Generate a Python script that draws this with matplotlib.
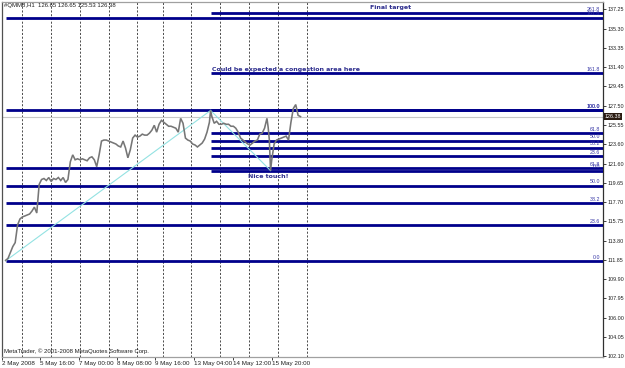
import matplotlib
matplotlib.use("Agg")
import matplotlib.pyplot as plt
import matplotlib.transforms as mtransforms

# ---------------- data ----------------
bar_index = [0, 2, 4, 6, 8, 10, 12, 14, 16, 18, 20, 22, 24, 26, 28, 30, 32, 34, 36, 38,
             40, 42, 44, 46, 48, 50, 52, 54, 56, 58, 60, 62, 64, 66, 68, 70, 72, 74, 76, 78,
             80, 82, 84, 86, 88, 90, 92, 94, 96, 98, 100, 102, 104, 106, 108, 110, 112, 114, 116, 118,
             120, 122, 124, 126, 128, 130, 132, 134, 136, 138, 140, 142, 144, 146, 148, 150, 152, 154, 156, 158,
             160, 162, 164, 166, 168, 170, 171, 172, 174, 176, 178, 180, 182, 184, 186, 188, 190, 192, 194, 196,
             198, 200, 202, 204, 206, 208, 210, 212, 214, 216, 218, 219, 220, 221, 222, 224, 226, 228, 230, 232,
             234, 236, 238, 240, 242, 244, 246]
price = [111.8, 112.0, 112.6, 113.2, 113.6, 115.4, 116.0, 116.2, 116.3, 116.4, 116.5, 116.8, 117.2, 116.6, 119.5, 120.0, 120.1, 119.9, 120.2, 119.8,
         120.1, 120.0, 120.2, 119.9, 120.2, 119.7, 120.0, 121.8, 122.5, 122.0, 122.1, 122.0, 122.1, 122.0, 121.9, 122.2, 122.3, 122.0, 121.3, 122.5,
         123.9, 124.0, 124.0, 123.9, 123.8, 123.7, 123.6, 123.4, 123.3, 123.9, 123.2, 122.2, 123.0, 124.2, 124.5, 124.3, 124.4, 124.6, 124.5, 124.5,
         124.7, 125.0, 125.5, 124.8, 125.6, 126.0, 125.8, 125.6, 125.4, 125.4, 125.3, 125.2, 124.8, 126.2, 125.7, 124.2, 124.0, 123.9, 123.6, 123.5,
         123.3, 123.5, 123.7, 124.1, 124.8, 125.8, 127.0, 126.4, 125.7, 125.9, 125.6, 125.6, 125.7, 125.6, 125.6, 125.4, 125.4, 125.2, 124.8, 124.2,
         124.0, 123.8, 123.6, 123.5, 123.7, 123.9, 124.0, 124.6, 124.7, 125.2, 126.2, 125.3, 124.0, 120.9, 122.0, 123.6, 124.0, 124.1, 124.2, 124.3,
         124.4, 124.0, 125.8, 127.2, 127.6, 126.5, 126.38]

bid_price = 126.38
header = "#QMM8,H1  126.65 126.65 125.53 126.38"

x_tick_pos = [-3, 29, 61, 93, 125, 157, 190, 222]
x_tick_labels = ["2 May 2008", "5 May 16:00", "7 May 00:00", "8 May 08:00",
                 "9 May 16:00", "13 May 04:00", "14 May 12:00", "15 May 20:00"]
day_grid = [14, 38, 62, 86, 110, 131, 155, 179, 203, 227, 251]

y_tick_labels = ["137.25", "135.30", "133.35", "131.40", "129.45", "127.50", "125.55",
                 "123.60", "121.60", "119.65", "117.70", "115.75", "113.80", "111.85",
                 "109.90", "107.95", "106.00", "104.05", "102.10"]

fib_levels_big = [0.0, 23.6, 38.2, 50.0, 61.8, 100.0, 161.8]
fib_big_anchor_bars = [0, 171]
fib_big_anchor_prices = [111.75, 127.0]

fib_levels_small = [0.0, 23.6, 38.2, 50.0, 61.8, 100.0, 161.8, 261.8]
fib_small_anchor_bars = [171, 221]
fib_small_anchor_prices = [127.0, 120.9]

notes = ["Final target", "Could be expected a congestion area here", "Nice touch!"]
note_bars = [304, 172.5, 202.5]
note_prices = [137.45, 131.2, 120.35]

# ---------------- figure ----------------
fig = plt.figure(figsize=(6.25, 3.68), dpi=100)
ax = fig.add_axes([2 / 625, 1 - 357 / 368, 601 / 625, 355 / 368])
ax.set_xlim(-2.5, 498.3)
ax.set_ylim(102.0, 138.0)

small_font = "Liberation Sans"

# vertical day grid
for g in day_grid:
    ax.axvline(g, color="#303030", lw=0.6, ls=(0, (2.5, 2.0)), zorder=1)

# bid line
ax.axhline(bid_price, color="#c8c8c8", lw=0.8, zorder=2)

# fibonacci levels
navy = "#00008b"
lvl_color = "#3535a5"
xr = ax.get_xlim()[1]
for levels, bars, prices in [(fib_levels_big, fib_big_anchor_bars, fib_big_anchor_prices),
                             (fib_levels_small, fib_small_anchor_bars, fib_small_anchor_prices)]:
    hi = max(prices)
    lo = min(prices)
    start = min(bars)
    for lv in levels:
        p = lo + (hi - lo) * lv / 100.0
        ax.plot([start, xr], [p, p], color=navy, lw=2.0, solid_capstyle="butt", zorder=3)
        ax.text(xr - 2.5, p + 0.12, f"{lv:.1f}", ha="right", va="bottom",
                fontsize=3.8, color=lvl_color, family=small_font, zorder=6)
    ax.plot(bars, prices, color="#93e2e2", lw=0.8, zorder=4)

# price
ax.plot(bar_index, price, color="#767676", lw=1.15, zorder=5, solid_joinstyle="miter")

# annotations
for t, b, p in zip(notes, note_bars, note_prices):
    ax.text(b, p, t, ha="left", va="center", fontsize=4.5, fontweight="bold",
            color="#2e2e8e", family="DejaVu Sans", zorder=7)

# axes styling
ax.yaxis.tick_right()
ax.set_yticks([float(v) for v in y_tick_labels])
ax.set_yticklabels(y_tick_labels)
ax.tick_params(axis="y", direction="out", length=2.0, width=0.6, pad=1.0,
               labelsize=3.9, colors="#202020")
ax.set_xticks(x_tick_pos)
ax.set_xticklabels(x_tick_labels)
for lab in ax.get_xticklabels():
    lab.set_horizontalalignment("left")
    lab.set_family(small_font)
for lab in ax.get_yticklabels():
    lab.set_family(small_font)
ax.tick_params(axis="x", direction="out", length=2, width=0.6, pad=1.0,
               labelsize=4.5, colors="#202020")

ax.spines["left"].set_color("#505050")
ax.spines["right"].set_color("#303030")
ax.spines["top"].set_color("#a0a0a0")
ax.spines["bottom"].set_color("#a0a0a0")
for s in ax.spines.values():
    s.set_linewidth(0.9)

# bid label on price axis
trans = mtransforms.blended_transform_factory(ax.transAxes, ax.transData)
ax.text(1.003, bid_price, "126.38", transform=trans, ha="left", va="center",
        fontsize=3.9, color="white", family=small_font, clip_on=False, zorder=8,
        bbox=dict(boxstyle="square,pad=0.12", fc="#2a1a10", ec="none"))

fig.text(4 / 625, 1 - 6 / 368, header, ha="left", va="center", fontsize=4.3,
         color="#202020", family=small_font)
fig.text(4 / 625, 1 - 351 / 368, "MetaTrader, \u00a9 2001-2008 MetaQuotes Software Corp.",
         ha="left", va="center", fontsize=4.3, color="#202020", family=small_font)

fig.savefig("out.png", dpi=100, facecolor="white")
